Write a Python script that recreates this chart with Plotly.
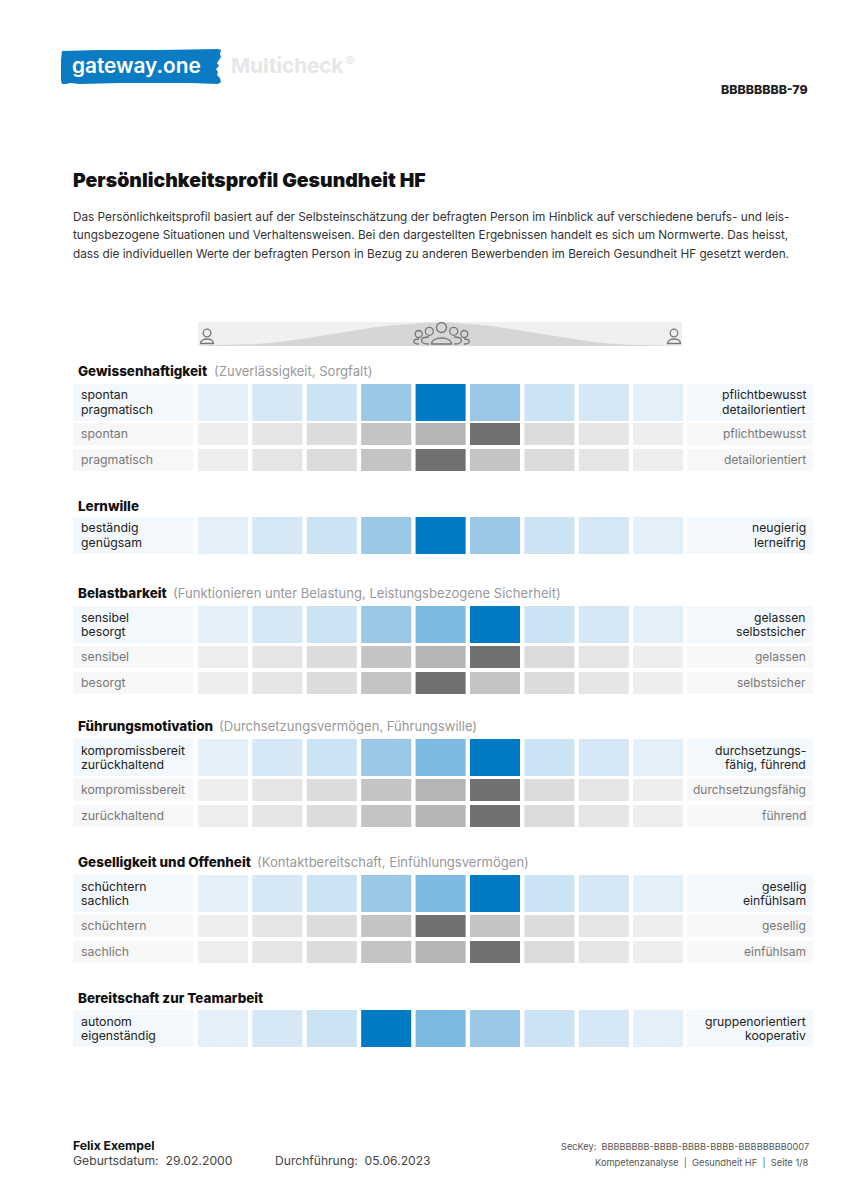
import plotly.graph_objects as go

W, H = 848, 1200
FONT = "Inter, Roboto, sans-serif"

# ---- data ----
BLUE = ["#E3F0F9", "#D6E8F5", "#CCE3F3", "#9AC8E6", "#7DB9E1", "#007AC5"]
GREY = ["#EEEEEE", "#E5E5E5", "#DCDCDC", "#C4C4C4", "#B5B5B5", "#707070"]
P5 = [1, 2, 3, 4, 6, 4, 3, 2, 1]
P6 = [1, 2, 3, 4, 5, 6, 3, 2, 1]
P4 = [1, 2, 3, 6, 5, 4, 3, 2, 1]
columns = [1, 2, 3, 4, 5, 6, 7, 8, 9]

groups = ["Gewissenhaftigkeit", "Lernwille", "Belastbarkeit", "Führungsmotivation",
          "Geselligkeit und Offenheit", "Bereitschaft zur Teamarbeit"]
group_notes = ["(Zuverlässigkeit, Sorgfalt)", "",
               "(Funktionieren unter Belastung, Leistungsbezogene Sicherheit)",
               "(Durchsetzungsvermögen, Führungswille)",
               "(Kontaktbereitschaft, Einfühlungsvermögen)", ""]
group_notes_x = [214, 0, 173, 219, 257, 0]
group_titles_y = [371, 506, 593, 726, 862, 998]
main_left = ["spontan<br>pragmatisch", "beständig<br>genügsam", "sensibel<br>besorgt",
             "kompromissbereit<br>zurückhaltend", "schüchtern<br>sachlich", "autonom<br>eigenständig"]
main_right = ["pflichtbewusst<br>detailorientiert", "neugierig<br>lerneifrig", "gelassen<br>selbstsicher",
              "durchsetzungs-<br>fähig, führend", "gesellig<br>einfühlsam", "gruppenorientiert<br>kooperativ"]
main_levels = [P5, P5, P6, P6, P6, P4]
main_tops = [384, 517, 606, 739, 875, 1010]

sub_left = ["spontan", "pragmatisch", "sensibel", "besorgt", "kompromissbereit", "zurückhaltend",
            "schüchtern", "sachlich"]
sub_right = ["pflichtbewusst", "detailorientiert", "gelassen", "selbstsicher", "durchsetzungsfähig", "führend",
             "gesellig", "einfühlsam"]
sub_levels = [P6, P5, P6, P5, P6, P6, P5, P6]
sub_tops = [423, 449, 646, 672, 779, 805, 915, 941]

bell_x = [198, 230, 257, 275, 290, 307, 323, 340, 357, 373, 390, 406, 423, 432, 441, 449, 457, 473, 490, 506,
          523, 540, 556, 573, 590, 606, 623, 650, 682]
bell_y = [345.5, 345, 344, 342.6, 340.8, 338.3, 335.5, 332.7, 330, 327.6, 325.5, 324, 323, 322.4, 322, 322.3,
          322.9, 324, 325.7, 328.3, 331, 333.7, 336, 339, 341.5, 343.3, 344.5, 345.2, 345.5]

# ---- layout constants ----
PITCH, X0 = 54.4, 223.0
MAIN_H, SUB_H, BAR_W = 37, 22, 0.92
def col(px):
    return (px - X0) / PITCH + 1

fig = go.Figure()
shapes, notes = [], []

def rect(x0, y0, x1, y1, color):
    shapes.append(dict(type="rect", xref="x", yref="y", x0=col(x0), x1=col(x1), y0=y0, y1=y1,
                       fillcolor=color, line_width=0, layer="below"))

def text(x, y, s, size=12, color="#222", anchor="left", weight=None):
    f = dict(family=FONT, size=size, color=color)
    if weight:
        f["weight"] = weight
    notes.append(dict(x=x / W, y=1 - y / H, xref="paper", yref="paper", text=s, showarrow=False,
                      xanchor=anchor, yanchor="middle", align=anchor,
                      font=f, borderpad=0, borderwidth=0))

def row(levels, top, h, palette):
    fig.add_trace(go.Bar(x=columns, y=[h] * 9, base=[top] * 9, width=BAR_W,
                         marker=dict(color=[palette[v - 1] for v in levels], line_width=0),
                         hoverinfo="skip", showlegend=False))

for lv, top, l, r in zip(main_levels, main_tops, main_left, main_right):
    row(lv, top, MAIN_H, BLUE)
    rect(73, top, 193, top + MAIN_H, "#F3F8FC")
    rect(687, top, 813, top + MAIN_H, "#F3F8FC")
    y0 = top + MAIN_H / 2
    a, b = l.split("<br>")
    text(81, y0 - 7.5, a, 12.3, "#222")
    text(81, y0 + 7, b, 12.3, "#222")
    a, b = r.split("<br>")
    text(806, y0 - 7.5, a, 12.2, "#222", "right")
    text(806, y0 + 7, b, 12.2, "#222", "right")

for lv, top, l, r in zip(sub_levels, sub_tops, sub_left, sub_right):
    row(lv, top, SUB_H, GREY)
    rect(73, top, 193, top + SUB_H, "#F7F7F7")
    rect(687, top, 813, top + SUB_H, "#F7F7F7")
    y0 = top + SUB_H / 2 - 0.5
    text(81, y0, l, 12.3, "#777")
    text(806, y0, r, 12.0, "#777", "right")

for g, n, nx, y in zip(groups, group_notes, group_notes_x, group_titles_y):
    text(78, y, g, 13.45, "#111", weight=800)
    if n:
        text(nx, y, n, 13.05, "#999")

# bell strip
rect(198, 322, 682, 346, "#F0F0F0")
fig.add_trace(go.Scatter(x=[col(v) for v in bell_x] + [col(682), col(198)], y=bell_y + [346, 346],
                         mode="lines", fill="toself", fillcolor="#D6D6D6", line=dict(width=0),
                         hoverinfo="skip", showlegend=False))

ICON = dict(color="#777", width=1.3)
def circle(cx, cy, r):
    shapes.append(dict(type="circle", xref="x", yref="y", x0=col(cx - r), x1=col(cx + r), y0=cy - r, y1=cy + r,
                       line=ICON, fillcolor="rgba(0,0,0,0)"))

def body(cx, top, bot, hw):
    shapes.append(dict(type="path", xref="x", yref="y",
                       path=f"M {col(cx-hw)} {bot} C {col(cx-hw)} {top-1} {col(cx+hw)} {top-1} {col(cx+hw)} {bot} Z",
                       line=ICON, fillcolor="rgba(0,0,0,0)"))

def open_arc(x_tip, x_in, top, bot):
    shapes.append(dict(type="path", xref="x", yref="y",
                       path=f"M {col(x_tip)} {top} C {col(x_in)} {top} {col(x_in)} {bot} {col(x_tip)} {bot}",
                       line=ICON, fillcolor="rgba(0,0,0,0)"))

for cx in (207, 674):
    circle(cx, 333, 3.8)
    body(cx, 338.5, 343.5, 6.5)
circle(441.5, 327.5, 5)
circle(429.3, 331.3, 4)
circle(453.7, 331.3, 4)
circle(418.7, 334, 3.5)
circle(464.3, 334, 3.5)
body(441.5, 337, 344, 10)
open_arc(429, 419, 337, 344)
open_arc(454, 464, 337, 344)
open_arc(419, 412, 339, 344)
open_arc(464, 471, 339, 344)

# logo (rough brush edge)
logo_pts = [(62, 51), (100, 50), (160, 50), (218, 49), (221, 50), (220, 54), (221, 57), (219, 60), (217, 63),
            (219, 66), (216, 69), (218, 72), (217, 75), (220, 78), (221, 82), (218, 84), (190, 83), (120, 83),
            (80, 84), (70, 83), (66, 84), (62, 84), (61, 80), (61, 60)]
shapes.append(dict(type="path", xref="x", yref="y", fillcolor="#0B7BC3", line_width=0,
                   path="M " + " L ".join(f"{col(a)} {b}" for a, b in logo_pts) + " Z"))
text(72, 65.5, "gateway.one", 20.8, "#FFFFFF", weight=600)
text(231, 65, "Multicheck", 20.6, "#E6E6E6", weight=700)
text(344.5, 61.5, "®", 15, "#E6E6E6", weight=500)
text(808, 90, "BBBBBBBB-79", 12.4, "#222", "right", weight=800)

# heading
text(73, 180, "Persönlichkeitsprofil Gesundheit HF", 19.45, "#111", weight=900)
body_lines = ["Das Persönlichkeitsprofil basiert auf der Selbsteinschätzung der befragten Person im Hinblick auf verschiedene berufs- und leis-",
              "tungsbezogene Situationen und Verhaltensweisen. Bei den dargestellten Ergebnissen handelt es sich um Normwerte. Das heisst,",
              "dass die individuellen Werte der befragten Person in Bezug zu anderen Bewerbenden im Bereich Gesundheit HF gesetzt werden."]
for i, ln in enumerate(body_lines):
    text(73, 217 + 18.3 * i, ln, 11.78, "#333")

# footer
text(73, 1145, "Felix Exempel", 12.2, "#111", weight=700)
text(73, 1160, "Geburtsdatum:  29.02.2000", 12.2, "#444")
text(275, 1160, "Durchführung:  05.06.2023", 12.1, "#444")
text(809, 1146, "SecKey:  BBBBBBBB-BBBB-BBBB-BBBB-BBBBBBBB0007", 9.2, "#555", "right")
text(809, 1163, "Kompetenzanalyse  |  Gesundheit HF  |  Seite 1/8", 9.3, "#555", "right")

fig.update_layout(
    width=W, height=H, margin=dict(l=0, r=0, t=0, b=0, pad=0),
    paper_bgcolor="white", plot_bgcolor="white", barmode="overlay", showlegend=False,
    xaxis=dict(range=[col(0), col(W)], visible=False, fixedrange=True),
    yaxis=dict(range=[H, 0], visible=False, fixedrange=True),
    shapes=shapes, annotations=notes,
)
fig.write_html("out.html", config={"displayModeBar": False},
               post_script="document.body.style.margin='0';document.documentElement.style.overflow='hidden';")
